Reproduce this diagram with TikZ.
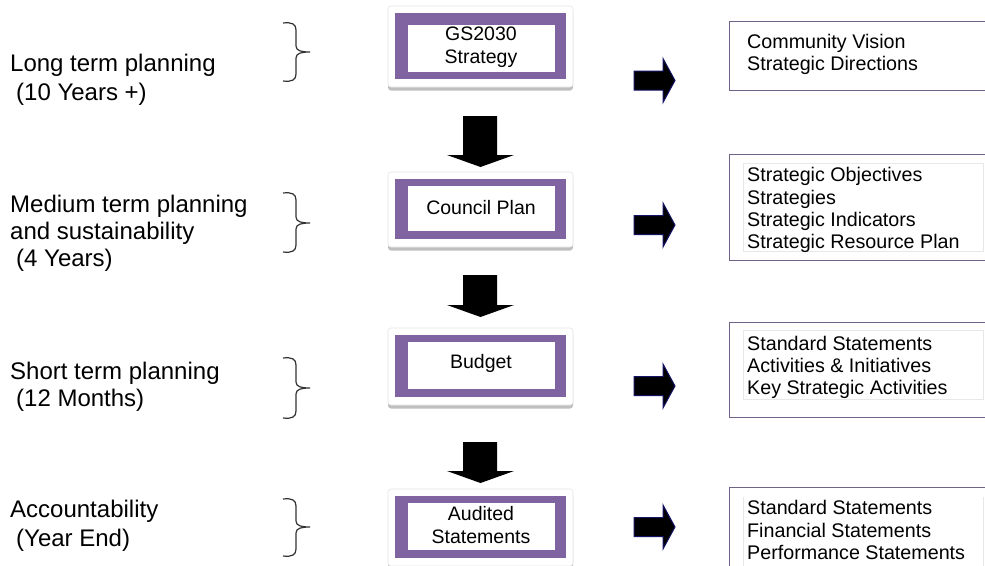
\documentclass[tikz,border=0pt]{standalone}
\usepackage{fontspec}
\setmainfont{Liberation Sans}
\definecolor{pframecol}{HTML}{8064A2}
\definecolor{rbordcol}{HTML}{6E6287}
\definecolor{navycol}{HTML}{141466}
\newcommand\mybrace[3]{% top, mid, bottom
  \draw[bracepath] (283,#1) .. controls (292,{#1-1}) and (296,{#1+1}) .. (296,{#1+7})
    -- (296,{#2-6}) .. controls (296,{#2-1}) and (302,#2) .. (310,#2)
    (310,#2) .. controls (302,#2) and (296,{#2+1}) .. (296,{#2+6})
    -- (296,{#3-7}) .. controls (296,{#3-1}) and (292,{#3+1}) .. (283,#3);}
\newcommand\downblock[4]{% name, shaft top, head start, tip
  \coordinate (#1) at (480.5,#4);
  \fill[downarrowst] (463,#2) -- (497,#2) -- (497,#3) -- (514,#3) -- (#1) -- (447,#3) -- (463,#3) -- cycle;}
\newcommand\rightblock[2]{% name, centre y
  \coordinate (#1) at (675,#2);
  \filldraw[rarrowst] (634,{#2-9.5}) -- (663,{#2-9.5}) -- (663,{#2-22}) -- (#1) -- (663,{#2+22}) -- (663,{#2+9.5}) -- (634,{#2+9.5}) -- cycle;}
\newcommand\planbox[9]{% name, ox1, oy1, ox2, oy2, ix1, iy1, ix2, iy2
  \fill[black!25, rounded corners=3pt] ({#2-7},{#3-7+3.5}) rectangle ({#4+7},{#5+8+3.5});
  \filldraw[cardst] ({#2-7},{#3-7}) rectangle ({#4+7},{#5+8});
  \fill[pframecol] (#2,#3) rectangle (#4,#5);
  \fill[white] (#6,#7) rectangle (#8,#9);
  \coordinate (#1) at ({(#6+#8)/2},{(#7+#9)/2});}
\begin{document}
\begin{tikzpicture}[x=1pt,y=-1pt,
  cardst/.style={fill=white, draw=black!10, line width=0.6pt, rounded corners=3pt},
  boxtext/.style={font=\fontsize{19.5}{23}\selectfont, align=center, inner sep=0pt},
  lefttext/.style={font=\fontsize{24}{28}\selectfont, anchor=base west, inner sep=0pt},
  righttext/.style={font=\fontsize{19.7}{22}\selectfont, anchor=base west, inner sep=0pt},
  rboxst/.style={draw=rbordcol, line width=1.3pt, fill=white, anchor=north west, inner sep=0pt},
  innerline/.style={draw=black!9, line width=0.8pt},
  downarrowst/.style={fill=black},
  rarrowst/.style={fill=black, draw=navycol, line width=1pt},
  bracepath/.style={draw=black!80, line width=1.2pt}
]
\useasboundingbox[fill=white] (0,0) rectangle (985,565);

% left labels
\node[lefttext] (l1a) at (10,71) {Long term planning};
\node[lefttext] (l1b) at (16,100) {(10 Years +)};
\node[lefttext] (l2a) at (10,212) {Medium term planning};
\node[lefttext] (l2b) at (10,239) {and sustainability};
\node[lefttext] (l2c) at (16,266) {(4 Years)};
\node[lefttext] (l3a) at (10,379) {Short term planning};
\node[lefttext] (l3b) at (16,406) {(12 Months)};
\node[lefttext] (l4a) at (10,517) {Accountability};
\node[lefttext] (l4b) at (16,546) {(Year End)};

% braces
\mybrace{23}{52}{81}
\mybrace{193}{223}{252}
\mybrace{358}{388}{418}
\mybrace{499}{527}{556}

% central boxes
\planbox{gsc}{395}{13}{566}{79}{408}{25}{555}{72}
\node[boxtext] (gs) at (481,47.5) {GS2030\\Strategy};
\planbox{cpc}{395}{179}{566}{239}{408}{186}{555}{231}
\node[boxtext] (cp) at (481,208) {Council Plan};
\planbox{bdc}{395}{335}{566}{397}{408}{342}{555}{389}
\node[boxtext] (bd) at (481,363) {Budget};
\planbox{asc}{395}{496}{566}{558}{408}{503}{555}{550}
\node[boxtext] (as) at (481,525.5) {Audited\\Statements};

% down arrows
\downblock{d1}{116}{155}{167}
\downblock{d2}{275}{305}{317}
\downblock{d3}{442}{471}{483}

% right arrows
\rightblock{r1}{80.5}
\rightblock{r2}{225}
\rightblock{r3}{386}
\rightblock{r4}{527}

% right boxes
\node[rboxst, minimum width=275pt, minimum height=69pt] (rb1) at (729,21) {};
\node[rboxst, minimum width=275pt, minimum height=106pt] (rb2) at (729,154) {};
\node[rboxst, minimum width=275pt, minimum height=95pt] (rb3) at (729,322) {};
\node[rboxst, minimum width=275pt, minimum height=100pt] (rb4) at (729,487) {};
\draw[innerline] (743,163) rectangle (983,251);
\draw[innerline] (743,330) rectangle (983,399);
\draw[innerline] (743,497) -- (743,570) (983,497) -- (983,570);

\node[righttext] (t1a) at (747,48) {Community Vision};
\node[righttext] (t1b) at (747,70) {Strategic Directions};
\node[righttext] (t2a) at (747,181) {Strategic Objectives};
\node[righttext] (t2b) at (747,204) {Strategies};
\node[righttext] (t2c) at (747,226) {Strategic Indicators};
\node[righttext] (t2d) at (747,248) {Strategic Resource Plan};
\node[righttext] (t3a) at (747,350) {Standard Statements};
\node[righttext] (t3b) at (747,372) {Activities \& Initiatives};
\node[righttext] (t3c) at (747,394) {Key Strategic Activities};
\node[righttext] (t4a) at (747,514) {Standard Statements};
\node[righttext] (t4b) at (747,537) {Financial Statements};
\node[righttext] (t4c) at (747,559) {Performance Statements};
\end{tikzpicture}
\end{document}
